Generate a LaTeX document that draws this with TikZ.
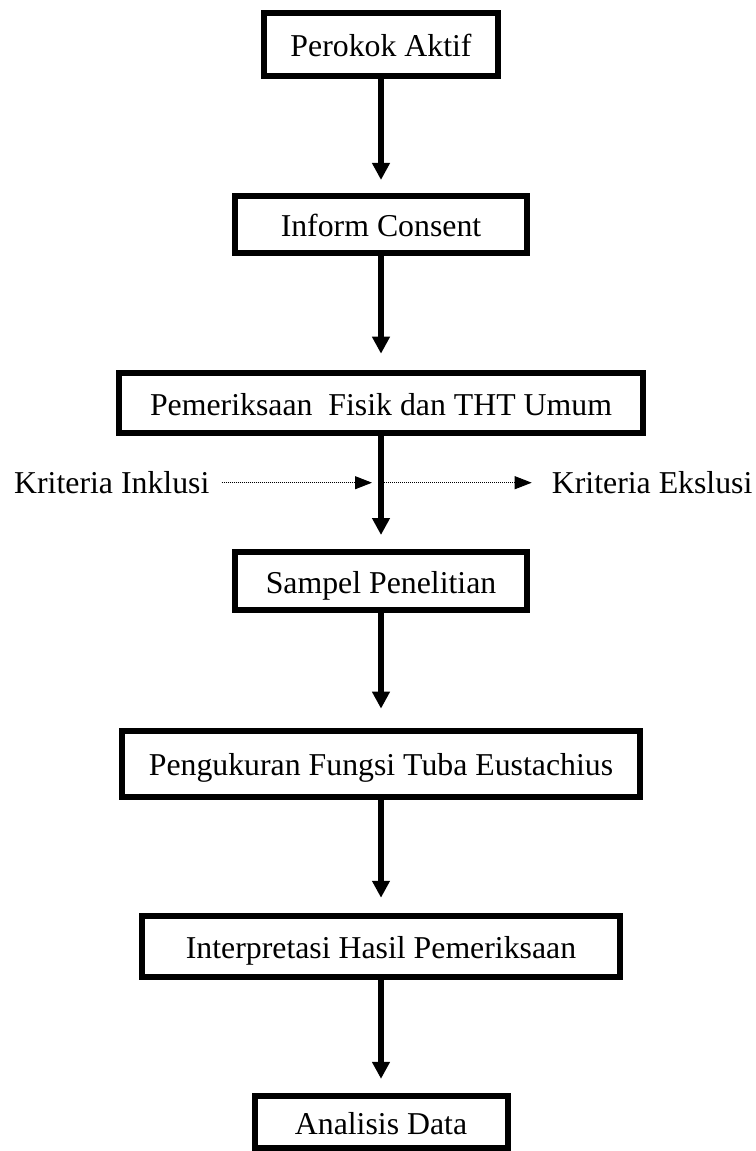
\documentclass[tikz,border=0pt]{standalone}
\usepackage{fontspec}
\setmainfont{Liberation Serif}
\usetikzlibrary{arrows.meta}
\begin{document}
\begin{tikzpicture}[x=1pt,y=-1pt,
  box/.style={draw, line width=6pt, inner sep=0pt, text height=24pt, text depth=0pt,
    font=\fontsize{31.8}{38}\selectfont},
  flow/.style={line width=6pt, -{Triangle[width=17pt,length=17pt]}},
  side/.style={line width=1pt, dash pattern=on 1pt off 1pt, -{Triangle[width=13pt,length=17pt]}},
  lbl/.style={inner sep=0pt, anchor=base west, font=\fontsize{31.8}{38}\selectfont}]
\useasboundingbox (0,0) rectangle (755,1151);
\node[box, minimum width=233.3pt, minimum height=63pt] (b1) at (381,44.5) {Perokok Aktif};
\node[box, minimum width=292pt, minimum height=57.3pt] (b2) at (381,224.3) {Inform Consent};
\node[box, minimum width=524pt, minimum height=60pt] (b3) at (381,403) {Pemeriksaan\ \ Fisik dan THT Umum};
\node[box, minimum width=292pt, minimum height=57.4pt] (b4) at (381,581) {Sampel Penelitian};
\node[box, minimum width=518pt, minimum height=66.3pt] (b5) at (381,763.8) {Pengukuran Fungsi Tuba Eustachius};
\node[box, minimum width=478pt, minimum height=60.7pt] (b6) at (381,946.7) {Interpretasi Hasil Pemeriksaan};
\node[box, minimum width=253pt, minimum height=52.3pt] (b7) at (381,1122) {Analisis Data};
\node[lbl] (inkl) at (14,493) {Kriteria Inklusi};
\node[lbl] (eksl) at (551.7,493) {Kriteria Ekslusi};
\coordinate (j) at (381,482.7);
\draw[flow, shorten >=12.7pt] (b1.south) -- (b2.north);
\draw[flow, shorten >=16.3pt] (b2.south) -- (b3.north);
\draw[flow, shorten >=14.3pt] (b3.south) -- (b4.north);
\draw[flow, shorten >=19pt] (b4.south) -- (b5.north);
\draw[flow, shorten >=15.6pt] (b5.south) -- (b6.north);
\draw[flow, shorten >=14pt] (b6.south) -- (b7.north);
\draw[side, shorten <=12pt, shorten >=9pt] (inkl.east |- j) -- (j);
\draw[side, shorten <=3pt, shorten >=20pt] (j) -- (j -| eksl.west);
\end{tikzpicture}
\end{document}
